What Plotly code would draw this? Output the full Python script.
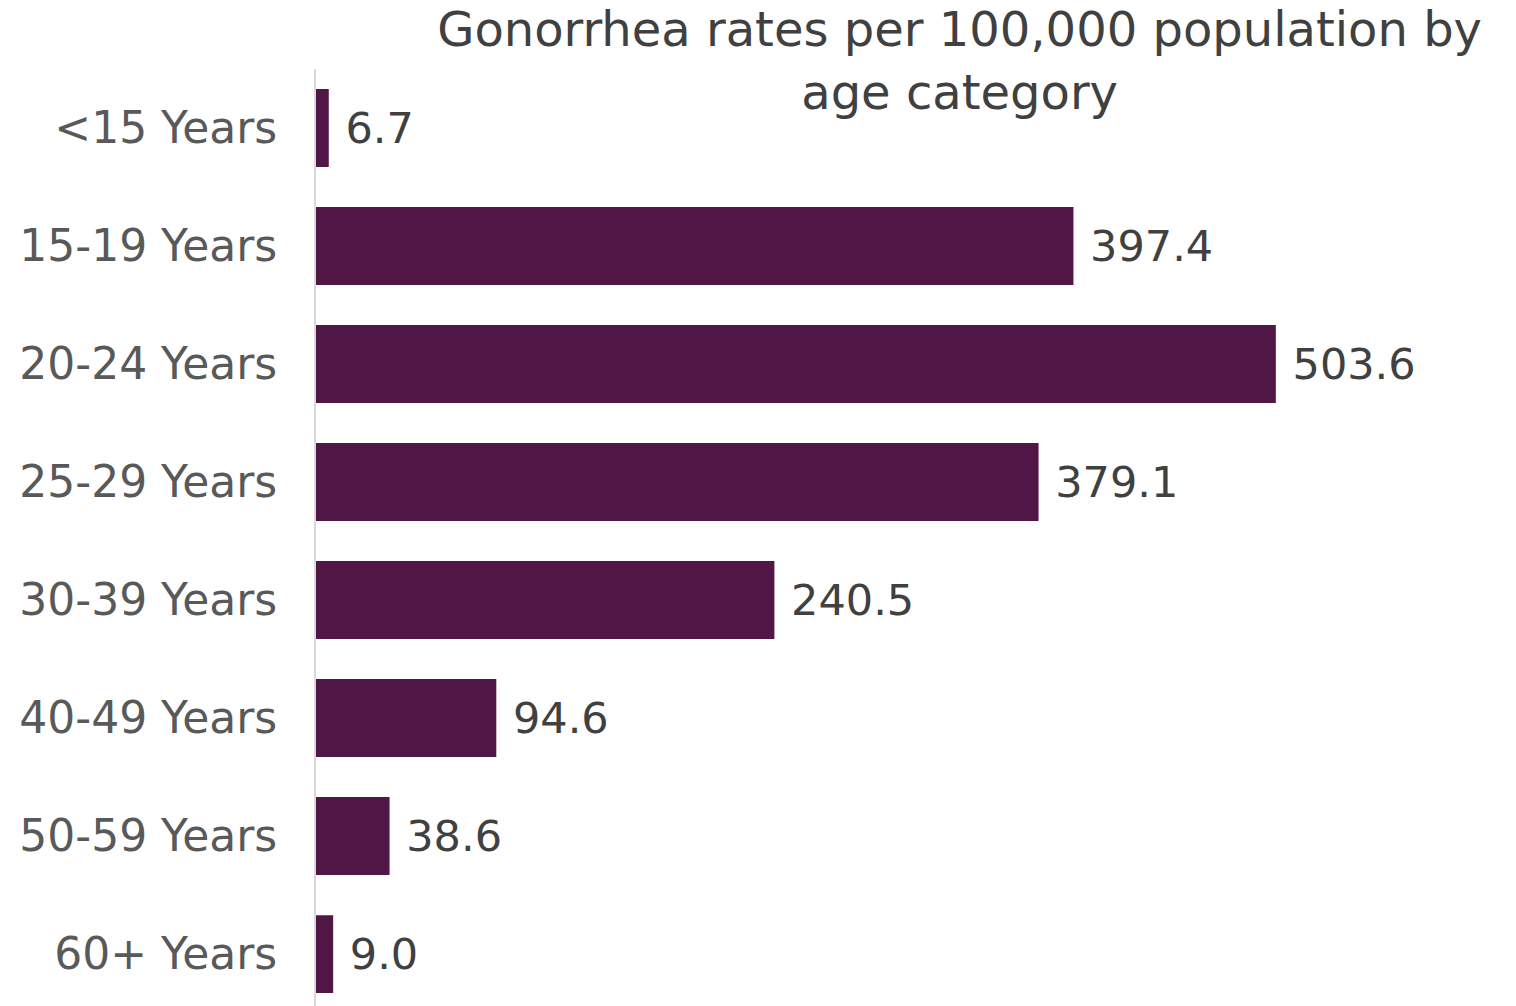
import plotly.graph_objects as go

categories = ["<15 Years", "15-19 Years", "20-24 Years", "25-29 Years",
              "30-39 Years", "40-49 Years", "50-59 Years", "60+ Years"]
rates = [6.7, 397.4, 503.6, 379.1, 240.5, 94.6, 38.6, 9.0]
labels = ["6.7", "397.4", "503.6", "379.1", "240.5", "94.6", "38.6", "9.0"]

FONT = "DejaVu Sans, Verdana, sans-serif"

fig = go.Figure(go.Bar(
    x=rates, y=categories, orientation="h",
    marker=dict(color="#501746", line=dict(width=0)),
    width=0.66,
    text=labels, texttemplate="\u00a0%{text}", textposition="outside", cliponaxis=False,
    textfont=dict(family=FONT, size=43, color="#404040"),
))

fig.update_layout(
    width=1516, height=1006,
    margin=dict(l=316, r=0, t=69, b=0, autoexpand=False),
    paper_bgcolor="white", plot_bgcolor="white",
    showlegend=False,
    title=dict(text="Gonorrhea rates per 100,000 population by<br>age category",
               x=0.633, xanchor="center", y=0.954, yanchor="top",
               font=dict(family=FONT, size=48, color="#404040")),
    xaxis=dict(range=[0, 629.6], visible=False, showgrid=False, zeroline=False,
               automargin=False),
    yaxis=dict(categoryorder="array", categoryarray=categories,
               range=[7.44, -0.5], showgrid=False, zeroline=False,
               showline=True, linecolor="#d9d9d9", linewidth=2,
               ticks="", ticklabelstandoff=28, automargin=False,
               tickfont=dict(family=FONT, size=44, color="#595959")),
)

fig.write_html("out.html", config={"displayModeBar": False},
               post_script="document.body.style.margin='0';")
